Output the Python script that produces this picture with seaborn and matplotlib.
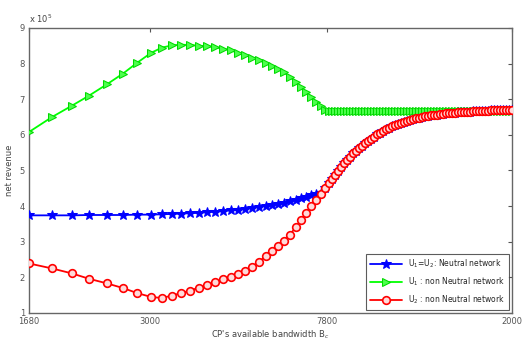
import matplotlib
matplotlib.use("Agg")
import matplotlib.pyplot as plt
import seaborn as sns
import pandas as pd

# posiciones de las muestras a lo largo del eje (escala del eje, 0..483)
bw_pos = [0, 23, 43, 60, 78, 94, 108, 122, 133, 143,
          152, 161, 170, 178, 186, 194, 202, 209, 216, 223,
          230, 237, 243, 249, 255, 261, 267, 272, 277, 282,
          287, 292, 296, 300,
          303, 306, 309, 312, 315, 318, 321, 324, 327, 330,
          333, 336, 339, 342, 345, 348, 351, 354, 357, 360,
          363, 366, 369, 372, 375, 378, 381, 384, 387, 390,
          393, 396, 399, 402, 405, 408, 411, 414, 417, 420,
          423, 426, 429, 432, 435, 438, 441, 444, 447, 450,
          453, 456, 459, 462, 465, 468, 471, 474, 477, 480,
          483]

rev_u2_nn = [2.39, 2.25, 2.11, 1.96, 1.83, 1.70, 1.56, 1.45, 1.42, 1.49,
             1.56, 1.63, 1.71, 1.78, 1.86, 1.94, 2.02, 2.10, 2.19, 2.30,
             2.44, 2.60, 2.75, 2.88, 3.02, 3.20, 3.42, 3.60, 3.80, 3.99,
             4.17, 4.35, 4.50, 4.65,
             4.76, 4.88, 4.99, 5.10, 5.20, 5.30, 5.39, 5.48, 5.56, 5.63,
             5.70, 5.77, 5.83, 5.89, 5.95, 6.01, 6.06, 6.11, 6.16, 6.20,
             6.24, 6.28, 6.31, 6.34, 6.37, 6.40, 6.42, 6.44, 6.46, 6.48,
             6.50, 6.52, 6.53, 6.55, 6.56, 6.57, 6.58, 6.59, 6.60, 6.61,
             6.62, 6.62, 6.63, 6.64, 6.64, 6.65, 6.65, 6.66, 6.66, 6.67,
             6.67, 6.68, 6.68, 6.69, 6.69, 6.69, 6.70, 6.70, 6.70, 6.71,
             6.71]

# U1 = U2 (red neutra): coincide con U2 tras el cruce
rev_neutral = [3.74, 3.74, 3.74, 3.75, 3.75, 3.75, 3.76, 3.76, 3.77, 3.78,
               3.79, 3.80, 3.81, 3.83, 3.84, 3.86, 3.88, 3.90, 3.92, 3.95,
               3.98, 4.01, 4.04, 4.07, 4.10, 4.14, 4.18, 4.22, 4.26, 4.30,
               4.34, 4.37] + rev_u2_nn[32:]

rev_u1_nn = [6.08, 6.50, 6.82, 7.10, 7.42, 7.72, 8.02, 8.30, 8.45, 8.51,
             8.53, 8.52, 8.50, 8.49, 8.46, 8.42, 8.37, 8.30, 8.24, 8.17,
             8.09, 8.01, 7.93, 7.85, 7.75, 7.62, 7.48, 7.34, 7.20, 7.07,
             6.93, 6.80, 6.70, 6.67] + [6.66] * 61

xtick_pos = [0, 121, 298, 483]
xtick_labels = ["1680", "3000", "7800", "2000"]
ytick_vals = [1, 2, 3, 4, 5, 6, 7, 8, 9]

sns.set_style("white")
plt.rcParams["font.family"] = ["DejaVu Sans"]

fig = plt.figure(figsize=(5.23, 3.45), dpi=100)
ax = fig.add_axes([0.0555, 0.0928, 0.9235, 0.8262])

df = pd.DataFrame({"x": bw_pos, "neutral": rev_neutral,
                   "u1": rev_u1_nn, "u2": rev_u2_nn})

sns.lineplot(data=df, x="x", y="neutral", ax=ax, color=(0, 0, 1), lw=1.3,
             marker="*", markersize=7.5, markeredgecolor=(0, 0, 1),
             label="U$_1$=U$_2$: Neutral network", zorder=3)
sns.lineplot(data=df, x="x", y="u1", ax=ax, color=(0, 1, 0), lw=1.3,
             marker=">", markersize=6, markeredgecolor=(0, 0.85, 0),
             markerfacecolor=(0.3, 1, 0.3),
             label="U$_1$ : non Neutral network", zorder=4)
sns.lineplot(data=df, x="x", y="u2", ax=ax, color=(1, 0, 0), lw=1.3,
             marker="o", markersize=5.5, markeredgecolor=(1, 0, 0),
             markerfacecolor=(1, 0.85, 0.85), markeredgewidth=1.2,
             label="U$_2$ : non Neutral network", zorder=5)

ax.set_xlim(0, 483)
ax.set_ylim(1, 9)
ax.set_xticks(xtick_pos)
ax.set_xticklabels(xtick_labels)
ax.set_yticks(ytick_vals)
ax.tick_params(direction="in", length=3, labelsize=6, colors="#555555",
               top=True, right=True, pad=3)
for s in ax.spines.values():
    s.set_color("#666666")
    s.set_linewidth(1.0)

ax.set_xlabel("CP's available bandwidth B$_c$", fontsize=6, color="#444444",
              labelpad=2)
ax.set_ylabel("net revenue", fontsize=6, color="#444444", labelpad=4)
ax.text(0.0, 1.012, "x 10$^{5}$", transform=ax.transAxes, fontsize=6,
        color="#444444", ha="left", va="bottom")

leg = ax.legend(loc="lower right", fontsize=5.5, frameon=True, fancybox=False,
                borderpad=0.5, labelspacing=0.7, handlelength=4.2,
                borderaxespad=0.4)
leg.get_frame().set_edgecolor("#333333")
leg.get_frame().set_linewidth(0.8)

fig.savefig("out.png", dpi=100)
